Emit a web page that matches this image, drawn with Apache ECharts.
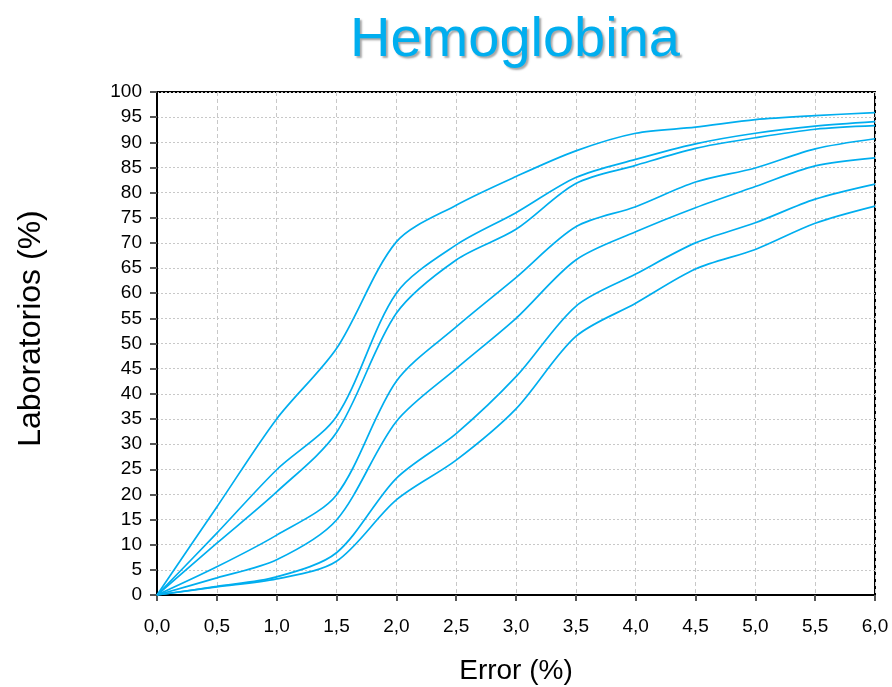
<!DOCTYPE html>
<html>
<head>
<meta charset="utf-8">
<script src="https://cdn.jsdelivr.net/npm/echarts@6/dist/echarts.min.js"></script>
<style>html,body{margin:0;padding:0;background:#fff}#c{width:892px;height:687px}</style>
</head>
<body>
<div id="c"></div>
<script>
const errorX = [0, 0.5, 1, 1.5, 2, 2.5, 3, 3.5, 4, 4.5, 5, 5.5, 6];
const line1 = [0, 17.5, 35, 49, 70.2, 77.5, 83.2, 88.3, 91.8, 93, 94.5, 95.3, 95.9];
const line2 = [0, 12.3, 24.9, 35.5, 60, 69.6, 76, 83, 86.6, 89.7, 91.8, 93.2, 94.1];
const line3 = [0, 10.3, 20.5, 32.3, 56, 66.6, 72.7, 81.8, 85.4, 88.8, 90.9, 92.6, 93.3];
const line4 = [0, 5.6, 11.9, 19.9, 42.5, 53.3, 63.1, 73.2, 77.2, 82.1, 84.9, 88.7, 90.7];
const line5 = [0, 3.4, 7.0, 14.9, 34.5, 45, 55, 66.6, 72.2, 77, 81.2, 85.3, 86.9];
const line6 = [0, 1.7, 3.6, 8.4, 23.2, 32.1, 43.4, 57.4, 63.8, 70, 74, 78.7, 81.7];
const line7 = [0, 1.6, 3.2, 6.7, 18.9, 26.8, 37, 51.4, 58, 64.8, 68.7, 73.9, 77.3];
const allLines = [line1, line2, line3, line4, line5, line6, line7];

const FONT = 'Arial, "Liberation Sans", sans-serif';
const chart = echarts.init(document.getElementById('c'), null, {renderer: 'canvas'});
chart.setOption({
  animation: false,
  backgroundColor: '#fff',
  title: {
    text: 'Hemoglobina',
    left: 510, top: 8, textAlign: 'center',
    textStyle: {
      fontFamily: FONT, fontSize: 56, fontWeight: 'normal', color: '#00aeef',
      textShadowColor: 'rgba(0,0,0,0.35)', textShadowOffsetX: 2, textShadowOffsetY: 2, textShadowBlur: 2
    }
  },
  grid: {left: 157, right: 17, top: 92, bottom: 92, show: true, borderColor: '#000', borderWidth: 2,
    outerBoundsMode: 'none', containLabel: false},
  xAxis: {
    type: 'value', min: 0, max: 6, interval: 0.5,
    name: 'Error (%)', nameLocation: 'middle', nameGap: 62,
    nameTextStyle: {fontFamily: FONT, fontSize: 28, color: '#000'},
    axisLine: {lineStyle: {color: '#000', width: 2}},
    axisTick: {show: true, length: 6, lineStyle: {color: '#555', width: 2}},
    axisLabel: {fontFamily: FONT, fontSize: 19, color: '#000', margin: 22,
      formatter: v => v.toFixed(1).replace('.', ',')},
    splitLine: {show: true, lineStyle: {color: '#c8c8c8', type: [4, 3], width: 1}}
  },
  yAxis: {
    type: 'value', min: 0, max: 100, interval: 5,
    name: 'Laboratorios (%)', nameLocation: 'middle', nameGap: 110, nameRotate: 90,
    nameTextStyle: {fontFamily: FONT, fontSize: 32, color: '#000', padding: [0, 0, 0, 30]},
    axisLine: {show: true, lineStyle: {color: '#000', width: 2}},
    axisTick: {show: true, length: 7, lineStyle: {color: '#555', width: 2}},
    axisLabel: {fontFamily: FONT, fontSize: 19, color: '#000', margin: 15},
    splitLine: {show: true, lineStyle: {color: '#c8c8c8', type: [2, 2], width: 1}}
  },
  series: allLines.map((arr, i) => ({
    type: 'line', name: 'L' + (i + 1),
    data: errorX.map((x, j) => [x, arr[j]]),
    smooth: 0.3, symbol: 'none',
    lineStyle: {color: '#00aeef', width: 1.7}
  }))
});
</script>
</body>
</html>
